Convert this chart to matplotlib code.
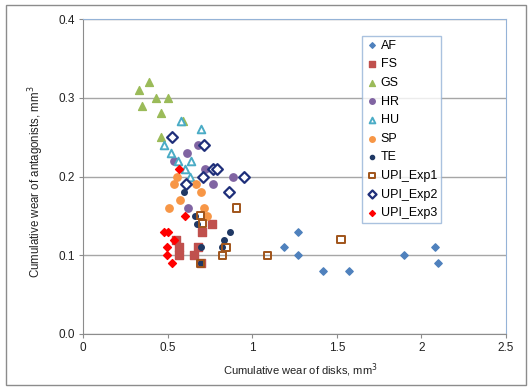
import matplotlib
matplotlib.use("Agg")
import matplotlib.pyplot as plt
from matplotlib.patches import Rectangle

plt.rcParams['font.family'] = ['Liberation Sans', 'DejaVu Sans']

af_x = [1.19, 1.27, 1.27, 1.42, 1.575, 1.90, 2.08, 2.10]
af_y = [0.11, 0.13, 0.10, 0.08, 0.08, 0.10, 0.11, 0.09]
fs_x = [0.765, 0.705, 0.55, 0.57, 0.68, 0.57, 0.655, 0.695]
fs_y = [0.14, 0.13, 0.12, 0.11, 0.11, 0.10, 0.10, 0.09]
gs_x = [0.33, 0.35, 0.39, 0.43, 0.50, 0.46, 0.59, 0.46]
gs_y = [0.31, 0.29, 0.32, 0.30, 0.30, 0.28, 0.27, 0.25]
hr_x = [0.68, 0.615, 0.535, 0.72, 0.885, 0.77, 0.62]
hr_y = [0.24, 0.23, 0.22, 0.21, 0.20, 0.19, 0.16]
hu_x = [0.58, 0.70, 0.48, 0.52, 0.56, 0.64, 0.60, 0.63]
hu_y = [0.27, 0.26, 0.24, 0.23, 0.22, 0.22, 0.21, 0.20]
sp_x = [0.555, 0.535, 0.665, 0.70, 0.575, 0.51, 0.715, 0.735]
sp_y = [0.20, 0.19, 0.19, 0.18, 0.17, 0.16, 0.16, 0.15]
te_x = [0.595, 0.66, 0.675, 0.87, 0.835, 0.70, 0.82, 0.695]
te_y = [0.18, 0.15, 0.14, 0.13, 0.12, 0.11, 0.11, 0.09]
e1_x = [0.905, 0.695, 0.705, 0.845, 0.825, 1.09, 1.525, 0.695]
e1_y = [0.16, 0.15, 0.14, 0.11, 0.10, 0.10, 0.12, 0.09]
e2_x = [0.525, 0.715, 0.77, 0.79, 0.71, 0.95, 0.61, 0.86]
e2_y = [0.25, 0.24, 0.21, 0.21, 0.20, 0.20, 0.19, 0.18]
e3_x = [0.565, 0.605, 0.48, 0.50, 0.54, 0.495, 0.495, 0.525]
e3_y = [0.21, 0.15, 0.13, 0.13, 0.12, 0.11, 0.10, 0.09]

x_ticks = [0, 0.5, 1, 1.5, 2, 2.5]
x_tick_labels = ['0', '0.5', '1', '1.5', '2', '2.5']
y_ticks = [0.0, 0.1, 0.2, 0.3, 0.4]
y_tick_labels = ['0.0', '0.1', '0.2', '0.3', '0.4']

fig = plt.figure(figsize=(5.28, 3.87), dpi=100)
fig.patches.append(Rectangle((6/528, 1-385/387), 520/528, 380/387, transform=fig.transFigure,
                             fill=False, edgecolor='#8c8c8c', linewidth=1.0))
ax = fig.add_axes([83/528, 1-334/387, 423/528, 315/387])

ax.set_xlim(0, 2.5)
ax.set_ylim(0, 0.4)
ax.set_xticks(x_ticks)
ax.set_xticklabels(x_tick_labels)
ax.set_yticks(y_ticks)
ax.set_yticklabels(y_tick_labels)
ax.yaxis.grid(True, color='#a6a6a6', linewidth=1.0)
ax.set_axisbelow(True)
for s in ['left', 'bottom']:
    ax.spines[s].set_color('#8c8c8c')
for s in ['top', 'right']:
    ax.spines[s].set_color('#95b3d7')
ax.tick_params(direction='out', length=3, color='#8c8c8c', labelsize=8.5, labelcolor='#222222', pad=3)

ax.scatter(af_x, af_y, marker='D', s=14, color='#4f81bd', label='AF', zorder=3)
ax.scatter(fs_x, fs_y, marker='s', s=28, color='#c0504d', label='FS', zorder=3)
ax.scatter(gs_x, gs_y, marker='^', s=32, color='#9bbb59', label='GS', zorder=3)
ax.scatter(hr_x, hr_y, marker='o', s=28, color='#8064a2', label='HR', zorder=3)
ax.scatter(hu_x, hu_y, marker='^', s=30, facecolor='white', edgecolor='#4bacc6', linewidth=1.4, label='HU', zorder=3)
ax.scatter(sp_x, sp_y, marker='o', s=28, color='#f79646', label='SP', zorder=3)
ax.scatter(te_x, te_y, marker='o', s=16, color='#1f3864', label='TE', zorder=4)
ax.scatter(e1_x, e1_y, marker='s', s=26, facecolor='none', edgecolor='#a0541a', linewidth=1.4, label='UPI_Exp1', zorder=4)
ax.scatter(e2_x, e2_y, marker='D', s=30, facecolor='white', edgecolor='#1f2f7a', linewidth=1.6, label='UPI_Exp2', zorder=3)
ax.scatter(e3_x, e3_y, marker='D', s=16, color='#ff0000', label='UPI_Exp3', zorder=4)

leg = ax.legend(loc='upper left', bbox_to_anchor=((362-83)/423, (334-36)/315), fontsize=9,
                frameon=True, fancybox=False, edgecolor='#95b3d7', handletextpad=0.2,
                handlelength=1.0, labelspacing=0.53, borderpad=0.3, borderaxespad=0,
                markerscale=0.75)
leg.get_frame().set_linewidth(1.0)

ax.set_xlabel('Cumulative wear of disks, mm$^3$', fontsize=8, color='#222222')
ax.xaxis.set_label_coords((300-83)/423, -(361-334)/315)
ax.set_ylabel('Cumulative wear of antagonists, mm$^3$', fontsize=8.3, color='#222222')
ax.yaxis.set_label_coords(-(83-46)/423, (334-182)/315)

fig.savefig('out.png', dpi=100)
